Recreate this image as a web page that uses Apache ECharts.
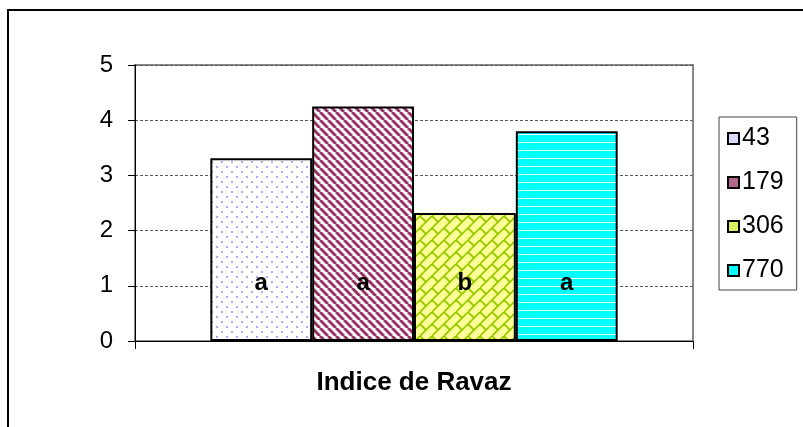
<!DOCTYPE html>
<html>
<head>
<meta charset="utf-8">
<script src="https://cdn.jsdelivr.net/npm/echarts@6/dist/echarts.min.js"></script>
<style>
  html, body { margin: 0; padding: 0; background: #fff; }
  #chart { width: 803px; height: 427px; }
</style>
</head>
<body>
<div id="chart"></div>
<script>
// données
const categories = ['Indice de Ravaz'];
const seriesNames = ['43', '179', '306', '770'];
const values = [3.31, 4.25, 2.32, 3.80];
const letters = ['a', 'a', 'b', 'a'];
const yTicks = [0, 1, 2, 3, 4, 5];

const FONT = 'Arial, "Liberation Sans", sans-serif';

// motifs de remplissage (style Excel)
function makePattern(w, h, draw) {
  const c = document.createElement('canvas');
  c.width = w; c.height = h;
  draw(c.getContext('2d'));
  return { image: c, repeat: 'repeat' };
}

const patterns = [
  makePattern(10, 10, ctx => {
    ctx.fillStyle = '#fff'; ctx.fillRect(0, 0, 10, 10);
    ctx.fillStyle = '#a8acf2';
    ctx.fillRect(1, 1, 2, 2);
    ctx.fillRect(6, 6, 2, 2);
  }),
  makePattern(8, 8, ctx => {
    ctx.fillStyle = '#fff'; ctx.fillRect(0, 0, 8, 8);
    ctx.strokeStyle = '#993366'; ctx.lineWidth = 3;
    for (let k = -8; k <= 16; k += 8) {
      ctx.beginPath(); ctx.moveTo(k, 0); ctx.lineTo(k + 8, 8); ctx.stroke();
    }
  }),
  makePattern(24, 24, ctx => {
    ctx.fillStyle = '#ffff99'; ctx.fillRect(0, 0, 24, 24);
    ctx.strokeStyle = '#99cc00'; ctx.lineWidth = 1.8;
    const P = 12;
    // lignes continues montantes
    for (let c = -24; c <= 60; c += P) {
      ctx.beginPath(); ctx.moveTo(c, 0); ctx.lineTo(c - 24, 24); ctx.stroke();
    }
    // joints décalés (briques)
    for (let a = -48; a <= 72; a += P) {
      const off = ((a / P) % 2 + 2) % 2 === 0 ? 0 : P;
      for (let b = -72 + off; b <= 72; b += 2 * P) {
        ctx.beginPath();
        ctx.moveTo((a + b) / 2, (a - b) / 2);
        ctx.lineTo((a + P + b) / 2, (a + P - b) / 2);
        ctx.stroke();
      }
    }
  }),
  makePattern(8, 8, ctx => {
    ctx.fillStyle = '#00ffff'; ctx.fillRect(0, 0, 8, 8);
    ctx.fillStyle = '#e8ffff'; ctx.fillRect(0, 6, 8, 1);
  })
];
const iconColors = ['#d8dafa', '#b3668c', '#ddf066', '#00ffff'];

const chart = echarts.init(document.getElementById('chart'));

const series = seriesNames.map((name, i) => ({
  name: name,
  type: 'bar',
  data: [values[i]],
  barGap: '0%',
  barCategoryGap: '27%',
  itemStyle: { color: patterns[i], borderColor: '#000', borderWidth: 2 },
  label: {
    show: true,
    position: 'insideBottom',
    distance: 46,
    formatter: () => letters[i],
    fontFamily: FONT,
    fontWeight: 'bold',
    fontSize: 24,
    color: '#000'
  }
}));

const option = {
  animation: false,
  backgroundColor: '#fff',
  graphic: [{
    type: 'rect',
    shape: { x: 8, y: 10, width: 900, height: 500 },
    style: { fill: 'none', stroke: '#000', lineWidth: 2 },
    silent: true
  }],
  grid: {
    left: 135, right: 110, top: 65, bottom: 86,
    show: true, borderColor: '#888', borderWidth: 2
  },
  legend: {
    orient: 'vertical',
    left: 719, top: 117,
    padding: [9, 13, 7, 8],
    itemGap: 19,
    itemWidth: 11, itemHeight: 11,
    borderColor: '#444', borderWidth: 1,
    borderRadius: 0,
    textStyle: { fontFamily: FONT, fontSize: 25, color: '#000', padding: [0, 0, 0, -2] },
    data: seriesNames.map((n, i) => ({
      name: n,
      icon: 'rect',
      itemStyle: { color: iconColors[i], borderColor: '#000', borderWidth: 2 }
    }))
  },
  xAxis: {
    type: 'category',
    data: categories,
    name: categories[0],
    nameLocation: 'middle',
    nameGap: 29,
    nameTextStyle: { fontFamily: FONT, fontWeight: 'bold', fontSize: 26, color: '#000' },
    axisLine: { lineStyle: { color: '#000', width: 1 } },
    axisTick: { show: true, alignWithLabel: false, length: 8, lineStyle: { color: '#000' } },
    axisLabel: { show: false }
  },
  yAxis: {
    type: 'value',
    min: yTicks[0], max: yTicks[yTicks.length - 1], interval: 1,
    axisLine: { show: true, lineStyle: { color: '#000', width: 1 } },
    axisTick: { show: true, length: 7, lineStyle: { color: '#000' } },
    axisLabel: { fontFamily: FONT, fontSize: 24, color: '#000', margin: 22 },
    splitLine: { lineStyle: { color: '#555', type: [3, 2], width: 1 } }
  },
  series: series
};

chart.setOption(option);
</script>
</body>
</html>
